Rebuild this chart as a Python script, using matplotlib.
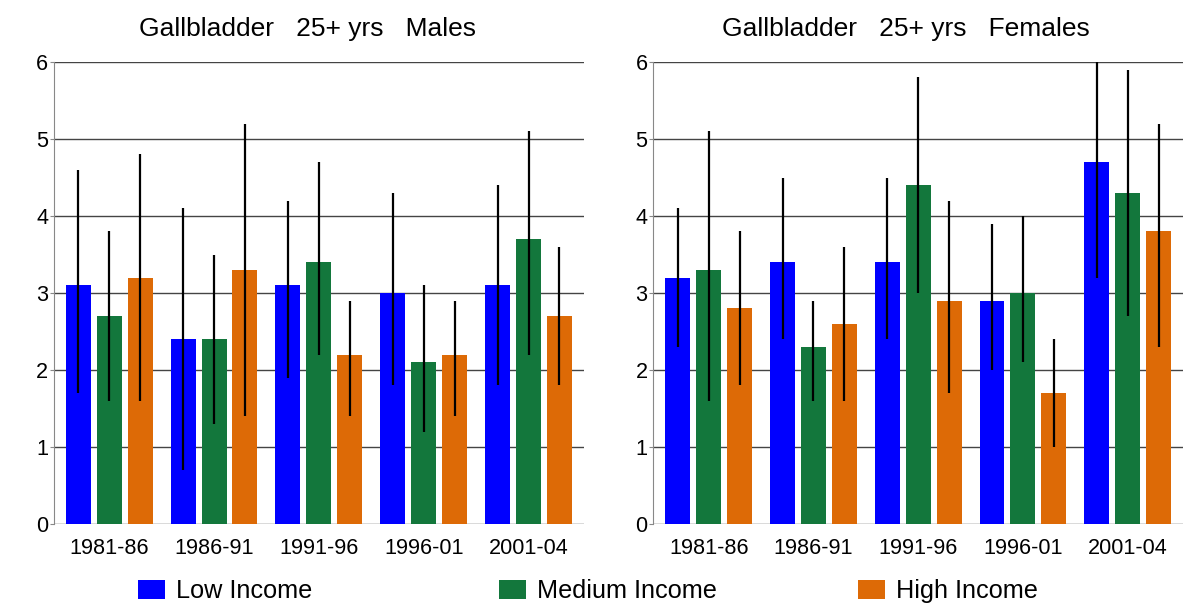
import numpy as np
import matplotlib
matplotlib.use('Agg')
import matplotlib.pyplot as plt
from matplotlib.patches import Patch

plt.rcParams['font.family'] = ['Liberation Sans', 'DejaVu Sans']

periods = ['1981-86', '1986-91', '1991-96', '1996-01', '2001-04']
groups = ['Low Income', 'Medium Income', 'High Income']
colors = ['#0000ff', '#13773c', '#dd6a06']

# rates and 95% limits, males
male_rate = [[3.1, 2.4, 3.1, 3.0, 3.1],
             [2.7, 2.4, 3.4, 2.1, 3.7],
             [3.2, 3.3, 2.2, 2.2, 2.7]]
male_lo = [[1.7, 0.7, 1.9, 1.8, 1.8],
           [1.6, 1.3, 2.2, 1.2, 2.2],
           [1.6, 1.4, 1.4, 1.4, 1.8]]
male_hi = [[4.6, 4.1, 4.2, 4.3, 4.4],
           [3.8, 3.5, 4.7, 3.1, 5.1],
           [4.8, 5.2, 2.9, 2.9, 3.6]]

# rates and 95% limits, females
female_rate = [[3.2, 3.4, 3.4, 2.9, 4.7],
               [3.3, 2.3, 4.4, 3.0, 4.3],
               [2.8, 2.6, 2.9, 1.7, 3.8]]
female_lo = [[2.3, 2.4, 2.4, 2.0, 3.2],
             [1.6, 1.6, 3.0, 2.1, 2.7],
             [1.8, 1.6, 1.7, 1.0, 2.3]]
female_hi = [[4.1, 4.5, 4.5, 3.9, 6.0],
             [5.1, 2.9, 5.8, 4.0, 5.9],
             [3.8, 3.6, 4.2, 2.4, 5.2]]

titles = ['Gallbladder   25+ yrs   Males', 'Gallbladder   25+ yrs   Females']

fig = plt.figure(figsize=(11.92, 6.07), dpi=100)
ax_l = fig.add_axes([0.045, 0.1367, 0.445, 0.761])
ax_r = fig.add_axes([0.548, 0.1367, 0.4446, 0.761])

x = np.arange(len(periods))
width = 0.238
step = 0.295

def draw(ax, rate, lo, hi):
    for i in range(3):
        xs = x + (i - 1) * step
        ax.bar(xs, rate[i], width, color=colors[i], zorder=2)
        ax.vlines(xs, lo[i], hi[i], color='black', linewidth=1.6, zorder=3)
    ax.set_xlim(-0.53, 4.53)
    ax.set_ylim(0, 6)
    ax.set_yticks(range(7))
    ax.yaxis.grid(True, color='#444444', linewidth=1.0, zorder=0)
    ax.set_axisbelow(True)
    for s in ['top', 'right', 'bottom']:
        ax.spines[s].set_visible(False)
    ax.spines['left'].set_color('#888888')
    ax.set_xticks(x)
    ax.set_xticklabels(periods)
    ax.tick_params(axis='x', length=0, labelsize=15.6, pad=10)
    ax.tick_params(axis='y', length=3, color='#888888', labelsize=15.6, pad=1)

draw(ax_l, male_rate, male_lo, male_hi)
draw(ax_r, female_rate, female_lo, female_hi)

fig.text(0.2576, 0.953, titles[0], ha='center', va='center', fontsize=19)
fig.text(0.760, 0.953, titles[1], ha='center', va='center', fontsize=19)

# one legend entry per slot along the bottom
for xpos, label, c in zip([0.116, 0.419, 0.720], groups, colors):
    fig.legend(handles=[Patch(facecolor=c, edgecolor='none')], labels=[label],
               loc='center left', bbox_to_anchor=(xpos, 0.026), frameon=False,
               fontsize=18.2, handlelength=1.05, handleheight=0.8,
               handletextpad=0.45, borderpad=0, borderaxespad=0)

fig.savefig('out.png', dpi=100, facecolor='white')
